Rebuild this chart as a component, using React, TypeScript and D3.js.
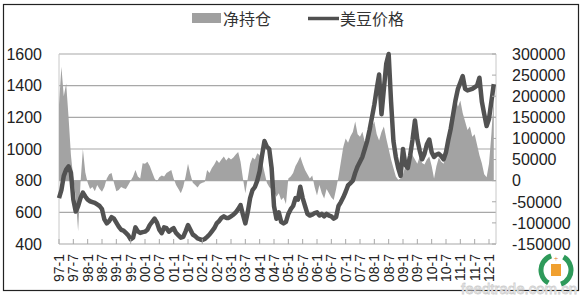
import React from "react";
import * as d3 from "d3";

// ---- data (monthly, starting 1997-01) ----
const priceValues: number[] = [
  690, 740, 830, 870, 890, 850, 680, 605, 640, 690, 725, 700,
  680, 670, 665, 660, 650, 640, 620, 555, 530, 545, 570, 560,
  535, 510, 490, 485, 470, 455, 430, 440, 505, 480, 470, 475,
  478, 490, 520, 540, 560, 535, 490, 468, 505, 500, 478, 490,
  500, 470, 455, 440, 445, 480, 520, 490, 460, 450, 436, 430,
  425, 432, 445, 460, 480, 500, 530, 545, 565, 575, 565, 565,
  575, 585, 600, 620, 646, 585, 530, 600, 690, 740, 760, 800,
  860, 960, 1050, 1015, 1000, 880, 640, 560, 600, 540, 530, 540,
  590, 620, 640, 690, 680, 762, 690, 640, 590, 580, 585, 595,
  600, 580, 590, 575, 590, 580, 575, 560, 570, 640, 665, 695,
  730, 770, 785, 800, 850, 890, 920, 950, 1000, 1050, 1120, 1200,
  1280, 1380, 1470, 1220, 1380, 1540, 1600, 1300, 1050, 950, 880, 830,
  1000, 900, 880, 960, 1060, 1180, 1060, 990, 935, 970, 1030, 1060,
  980, 950, 965, 970, 955, 935, 980, 1060, 1130, 1220, 1310, 1380,
  1420, 1460, 1380, 1370, 1375, 1380, 1390, 1400, 1450, 1300, 1220, 1145,
  1190, 1300, 1410,
];

// net position, in thousands of contracts
const netPositionK: number[] = [
  180, 270, 200, 230, 150, 60, 5, -40, -120, -5, 75, 20,
  -5, -20, -15, -25, -10, -20, -26, -15, 5, 15, 18, -5,
  -25, -22, -15, -18, -20, -10, 0, 10, 25, 10, 5, 41,
  40, 45, 35, 20, 5, -2, 8, 12, 10, 18, 22, 25,
  5, -10, -20, -30, -15, 10, 40, 15, -5, -10, -16, -8,
  -5, -3, 25, 18, 30, 38, 49, 42, 50, 57, 48, 55,
  50, 55, 62, 68, 45, 5, -30, 5, 40, 55, 50, 65,
  60, 45, 20, -5, -15, -21, -25, -38, -30, -46, -40, -55,
  5, 10, 18, 35, 45, 57, 40, 25, 15, 5, 12, -15,
  -35, -10, -30, -42, -20, -30, -40, -46, -20, 10, 45, 80,
  100, 90, 105, 115, 140, 110, 104, 116, 92, 100, 112, 128,
  140, 110, 95, 115, 128, 100, 75, 50, 30, 10, 2, 5,
  15, 35, 55, 73, 60, 50, 40, 57, 42, 38, 50, 57,
  35, 5, 35, 55, 45, 40, 75, 110, 150, 162, 195, 175,
  190, 160, 140, 120, 128, 104, 110, 85, 60, 41, 15, 8,
  40, 110, 200,
];

const xLabels: string[] = [
  "97-1", "97-7", "98-1", "98-7", "99-1", "99-7", "00-1", "00-7",
  "01-1", "01-7", "02-1", "02-7", "03-1", "03-7", "04-1", "04-7",
  "05-1", "05-7", "06-1", "06-7", "07-1", "07-7", "08-1", "08-7",
  "09-1", "09-7", "10-1", "10-7", "11-1", "11-7", "12-1",
];
const leftTicks: number[] = [400, 600, 800, 1000, 1200, 1400, 1600];
const rightTicks: number[] = [-150000, -100000, -50000, 0, 50000, 100000, 150000, 200000, 250000, 300000];
const seriesNames: string[] = ["净持仓", "美豆价格"];

const W = 582;
const H = 298;
const plot = { left: 59, right: 496, top: 54, bottom: 244 };
const FONT = "'Liberation Sans', Arial, 'Noto Sans CJK SC', sans-serif";
const CJK = "'Noto Sans CJK SC', 'Liberation Sans', sans-serif";

export default function App() {
  const x = d3.scaleLinear().domain([0, 180]).range([plot.left, 489]);
  const yP = d3.scaleLinear().domain([400, 1600]).range([plot.bottom, plot.top]);
  const yN = d3.scaleLinear().domain([-150, 300]).range([plot.bottom, plot.top]);

  const areaGen = d3
    .area<number>()
    .x((_, i) => x(i))
    .y0(yN(0))
    .y1((d) => yN(d));
  const lineGen = d3
    .line<number>()
    .x((_, i) => x(i))
    .y((d) => yP(d));

  const tickIdx = xLabels.map((_, i) => i * 6);

  return (
    <svg
      width={W}
      height={H}
      style={{ position: "absolute", left: 0, top: 0, background: "#fff" }}
    >
      <rect x={0} y={0} width={W} height={H} fill="#fff" />
      <rect x={3.5} y={4.5} width={575} height={286} fill="none" stroke="#222" strokeWidth={1.2} />

      {/* legend */}
      <g>
        <rect x={192} y={13} width={29} height={10} fill="#a0a0a0" />
        <text x={223} y={25} fontSize={16} fontFamily={CJK} fill="#333">{seriesNames[0]}</text>
        <line x1={308} x2={339} y1={18.5} y2={18.5} stroke="#505050" strokeWidth={3.5} />
        <text x={340} y={25} fontSize={16} fontFamily={CJK} fill="#333">{seriesNames[1]}</text>
      </g>

      {/* gridlines */}
      {leftTicks.map((t) => (
        <line key={t} x1={plot.left} x2={plot.right} y1={yP(t)} y2={yP(t)} stroke="#a8a8a8" strokeWidth={1.2} />
      ))}
      {/* axis frame lines */}
      <line x1={plot.left} x2={plot.left} y1={plot.top} y2={plot.bottom} stroke="#c8c8c8" strokeWidth={1} />
      <line x1={plot.right} x2={plot.right} y1={plot.top} y2={plot.bottom} stroke="#c8c8c8" strokeWidth={1} />

      {/* net position area */}
      <path d={areaGen(netPositionK) || ""} fill="#a3a3a3" stroke="none" />

      {/* price line */}
      <path
        d={lineGen(priceValues) || ""}
        fill="none"
        stroke="#525252"
        strokeWidth={4.5}
        strokeLinejoin="round"
      />

      {/* x axis ticks */}
      {tickIdx.map((m) => (
        <line key={m} x1={x(m)} x2={x(m)} y1={plot.bottom} y2={plot.bottom - 5} stroke="#a8a8a8" strokeWidth={1} />
      ))}
      {/* right axis ticks */}
      {rightTicks.map((t) => (
        <line key={t} x1={plot.right - 4} x2={plot.right} y1={yN(t / 1000)} y2={yN(t / 1000)} stroke="#a8a8a8" strokeWidth={1} />
      ))}

      {/* left labels */}
      {leftTicks.map((t) => (
        <text key={t} x={42} y={yP(t)} dy="0.36em" textAnchor="end" fontSize={16} fontFamily={FONT} fill="#222">
          {t}
        </text>
      ))}
      {/* right labels */}
      {rightTicks.map((t) => (
        <text key={t} x={512} y={yN(t / 1000)} dy="0.36em" textAnchor="start" fontSize={16} fontFamily={FONT} fill="#222">
          {t}
        </text>
      ))}
      {/* x labels */}
      {xLabels.map((lab, i) => (
        <text
          key={lab}
          transform={`translate(${x(tickIdx[i])},254) rotate(-90)`}
          dy="0.36em"
          textAnchor="end"
          fontSize={14}
          fontFamily={FONT}
          fill="#222"
        >
          {lab}
        </text>
      ))}

      {/* logo & watermark */}
      <g transform="translate(556,270)">
        <circle r={15} fill="none" stroke="#2e9a5a" strokeWidth={5} strokeDasharray="34 13" transform="rotate(-60)" />
        <rect x={-5} y={-6} width={10} height={12} fill="#f0a030" />
        <text x={0} y={-9} fontSize={8} textAnchor="middle" fill="#e07020">+</text>
      </g>
      <text x={577} y={294} textAnchor="end" fontSize={15} fontFamily={FONT} fill="#fff" stroke="#cfcfcf" strokeWidth={0.8}>
        feedtrade.com.cn
      </text>
    </svg>
  );
}
